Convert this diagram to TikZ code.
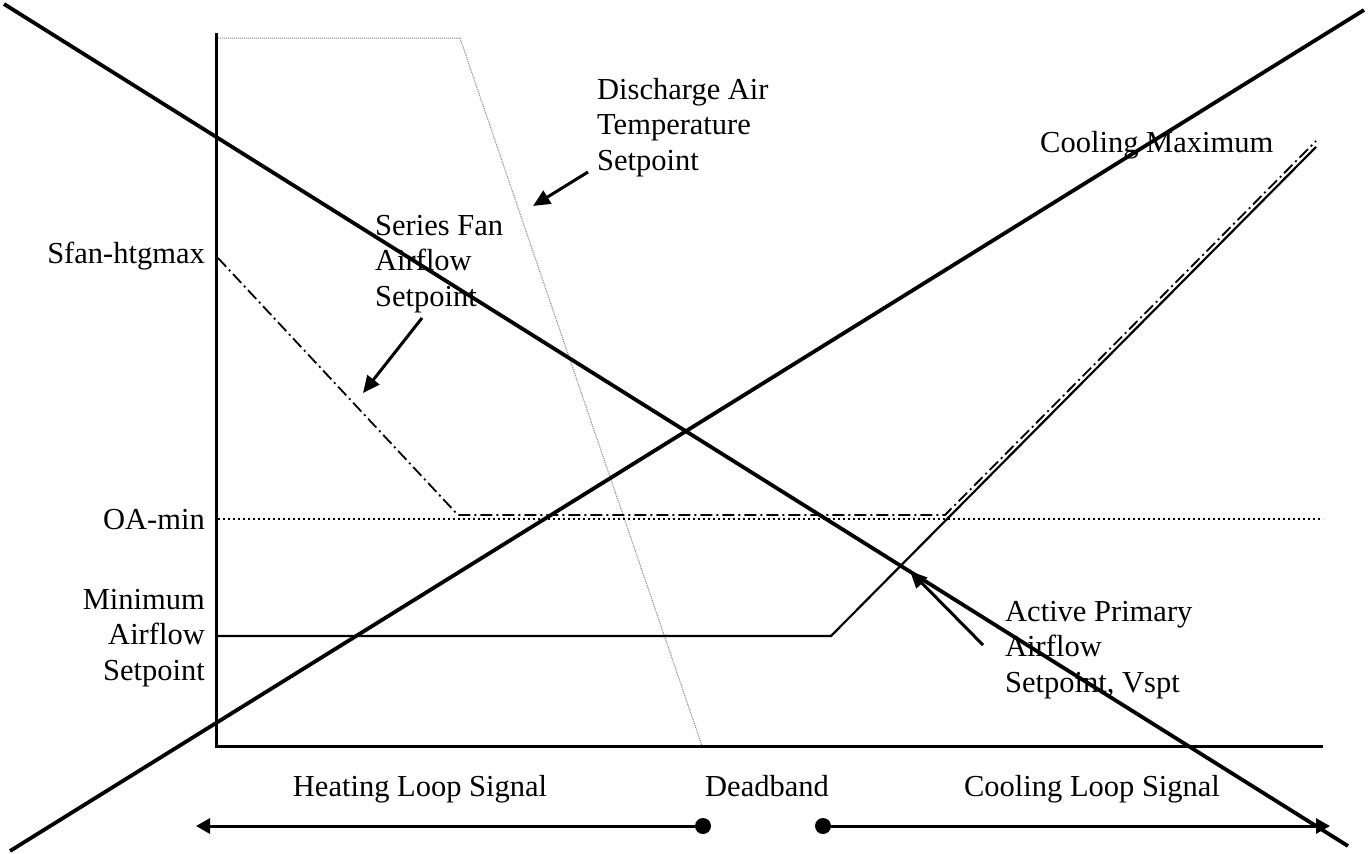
\documentclass[tikz,border=0pt]{standalone}
\usepackage{fontspec}
\setmainfont{Liberation Serif}
\usetikzlibrary{arrows.meta}
\begin{document}
\begin{tikzpicture}[x=1pt,y=-1pt,
  lbl/.style={font=\fontsize{30.5}{35.5}\selectfont, inner sep=0pt},
  thickline/.style={line width=3.8pt},
  axisline/.style={line width=3pt},
  ramp/.style={line width=2.2pt},
  datline/.style={line width=1pt, gray, dash pattern=on 1pt off 1pt},
  oaline/.style={line width=2pt, dash pattern=on 2pt off 3pt},
  sfanline/.style={line width=1.8pt, dash pattern=on 12pt off 4pt on 2pt off 4pt},
  ptr/.style={line width=3pt, -{Triangle[length=17pt,width=15pt]}},
  sigarrow/.style={line width=3pt, -{Triangle[length=14pt,width=15pt]}},
  dotend/.style={circle, fill=black, inner sep=0pt, minimum size=16pt}
]
\useasboundingbox (0,0) rectangle (1371,854);

% axes
\coordinate (ytop) at (216,33);
\coordinate (orig) at (216,746);
\coordinate (xend) at (1323,746);
\draw[axisline] (ytop) -- (orig) -- (xend);

% discharge air temperature setpoint (gray dotted)
\coordinate (d1) at (218,38);
\coordinate (d2) at (460,38);
\coordinate (d3) at (702,746);
\draw[datline] (d1) -- (d2) -- (d3);

% OA-min dotted line
\coordinate (oa1) at (218,519);
\coordinate (oa2) at (1323,519);
\draw[oaline] (oa1) -- (oa2);

% series fan airflow setpoint (dash-dot)
\coordinate (s1) at (218,258);
\coordinate (s2) at (458,515);
\coordinate (s3) at (945,515);
\coordinate (s4) at (1316,141);
\draw[sfanline] (s1) -- (s2) -- (s3) -- (s4);

% active primary airflow setpoint ramp
\coordinate (r1) at (216,636);
\coordinate (r2) at (831,636);
\coordinate (r3) at (1316,147);
\draw[ramp] (r1) -- (r2) -- (r3);

% large crossing lines
\coordinate (c1) at (10,851);
\coordinate (c2) at (1364,10);
\draw[thickline] (c1) -- (c2);
\coordinate (v1) at (4,4);
\coordinate (v2) at (1348,846);
\draw[thickline] (v1) -- (v2);

% labels (base anchor = baseline of last line)
\node[lbl, anchor=base west, align=left] (dat) at (597,170) {Discharge Air\\Temperature\\Setpoint};
\node[lbl, anchor=base west, align=left] (sfan) at (375,306) {Series Fan\\Airflow\\Setpoint};
\node[lbl, anchor=base west] (cmax) at (1040,152) {Cooling Maximum};
\node[lbl, anchor=base east] (shtg) at (205,263) {Sfan-htgmax};
\node[lbl, anchor=base east] (oamin) at (205,529) {OA-min};
\node[lbl, anchor=base east, align=right] (minair) at (205,680) {Minimum\\Airflow\\Setpoint};
\node[lbl, anchor=base west, align=left] (vspt) at (1005,692) {Active Primary\\Airflow\\Setpoint, Vspt};
\node[lbl, anchor=base] (heat) at (420,796) {Heating Loop Signal};
\node[lbl, anchor=base] (dead) at (767,796) {Deadband};
\node[lbl, anchor=base] (cool) at (1092,796) {Cooling Loop Signal};

% pointer arrows
\coordinate (pa1) at (588,172);
\coordinate (pa2) at (533,206);
\draw[ptr] (pa1) -- (pa2);
\coordinate (pb1) at (422,318);
\coordinate (pb2) at (363,393);
\draw[ptr] (pb1) -- (pb2);
\coordinate (pc1) at (983,645);
\coordinate (pc2) at (910,571);
\draw[ptr] (pc1) -- (pc2);

% signal arrows
\node[dotend] (hdot) at (703,826) {};
\coordinate (hend) at (196,826);
\draw[sigarrow] (hdot.center) -- (hend);
\node[dotend] (cdot) at (823,826) {};
\coordinate (cend) at (1330,826);
\draw[sigarrow] (cdot.center) -- (cend);
\end{tikzpicture}
\end{document}
